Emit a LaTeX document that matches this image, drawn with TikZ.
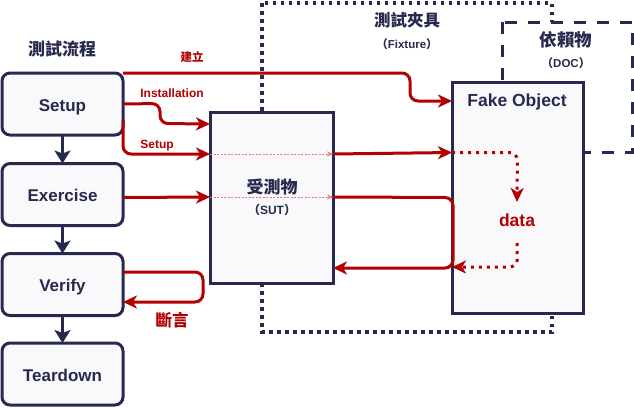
\documentclass[tikz,border=0pt]{standalone}
\usepackage{fontspec}
\setmainfont{Liberation Sans}
\newfontfamily\zhfont{Noto Sans CJK TC}
\usetikzlibrary{arrows.meta,calc}
\definecolor{navy}{HTML}{272A4E}
\definecolor{dred}{HTML}{B30000}
\definecolor{pinkl}{HTML}{E07A7A}
\definecolor{boxfill}{HTML}{F9F9FB}
\tikzset{
  stepbox/.style={draw=navy, line width=3pt, rounded corners=8pt, fill=boxfill,
    minimum width=121pt, minimum height=62pt, inner sep=0pt, outer sep=0pt,
    text height=14pt, text depth=0pt,
    text=navy, font=\bfseries\fontsize{17}{20}\selectfont},
  bigbox/.style={draw=navy, line width=3pt, fill=boxfill, inner sep=0pt, outer sep=0pt},
  flow/.style={draw=navy, line width=3pt, -{Stealth[length=13pt,width=16pt,inset=3pt]}},
  redline/.style={draw=dred, line width=3pt, rounded corners=8pt, -{Stealth[length=14pt,width=13pt,inset=4pt]}},
  reddot/.style={redline, dash pattern=on 3pt off 5pt},
  thinarrow/.style={draw=pinkl, line width=0.8pt, dash pattern=on 2pt off 1.5pt, -{Stealth[length=6pt,width=5pt]}},
  navylbl/.style={text=navy, inner sep=0pt},
  redlbl/.style={text=dred, inner sep=0pt},
}
\begin{document}
\begin{tikzpicture}[x=1pt,y=-1pt]
\useasboundingbox (0,0) rectangle (634,407);
\fill[white] (0,0) rectangle (634,407);

% fixture and DOC regions
\draw[navy, line width=3.5pt, dash pattern=on 3.5pt off 4.5pt] (262,3) rectangle (552,332);
\draw[navy, line width=3pt, dash pattern=on 12pt off 11pt, fill=white] (502,22) rectangle (632,152.5);

% flow boxes
\node[stepbox] (setup) at (62.5,104) {Setup};
\node[stepbox] (exercise) at (62.5,194.5) {Exercise};
\node[stepbox] (verify) at (62.5,284.5) {Verify};
\node[stepbox] (teardown) at (62.5,374) {Teardown};

\draw[flow] (setup) -- (exercise);
\draw[flow] (exercise) -- (verify);
\draw[flow] (verify) -- (teardown);

% SUT and fake
\node[bigbox, minimum width=123pt, minimum height=171pt] (sut) at (271.5,197.5) {};
\node[bigbox, minimum width=131pt, minimum height=231pt] (fake) at (517.5,197.5) {};

% labels
\node[navylbl, font=\zhfont\bfseries\fontsize{17}{20}\selectfont] (title) at (62,49) {測試流程};
\node[navylbl, font=\zhfont\bfseries\fontsize{17}{20}\selectfont] (sutzh) at (272,187) {受測物};
\node[navylbl, font=\bfseries\fontsize{12}{14}\selectfont] (suten) at (272,209.5) {{\zhfont （}SUT{\zhfont ）}};
\node[navylbl, font=\zhfont\bfseries\fontsize{16.5}{20}\selectfont] (fixzh) at (407,20.5) {測試夾具};
\node[navylbl, font=\bfseries\fontsize{11.5}{13}\selectfont] (fixen) at (407,44.3) {{\zhfont （}Fixture{\zhfont ）}};
\node[navylbl, font=\zhfont\bfseries\fontsize{17.5}{20}\selectfont] (doczh) at (566,39.5) {依賴物};
\node[navylbl, font=\bfseries\fontsize{11.5}{13}\selectfont] (docen) at (566,63.3) {{\zhfont （}DOC{\zhfont ）}};
\node[navylbl, anchor=base, font=\bfseries\fontsize{17.5}{20}\selectfont] (fakelbl) at (517,106) {Fake Object};

\node[redlbl, font=\zhfont\bfseries\fontsize{11.5}{14}\selectfont] (build) at (192,57.5) {建立};
\node[redlbl, anchor=base, font=\bfseries\fontsize{12}{14}\selectfont] (install) at (172,97.7) {Installation};
\node[redlbl, anchor=base, font=\bfseries\fontsize{12}{14}\selectfont] (setuplbl) at (157,148.3) {Setup};
\node[redlbl, anchor=base, font=\bfseries\fontsize{17.5}{20}\selectfont] (data) at (517,226) {data};
\node[redlbl, font=\zhfont\bfseries\fontsize{16.5}{20}\selectfont] (assert) at (172,320) {斷言};
\coordinate (dtop) at (517,202);
\coordinate (dbot) at (517,243);

% red connectors
\draw[redline] (setup.north east) -- (410,73) -- (410,101) -- ($(fake.north west)+(0,19)$);
\draw[redline] (setup.east) -- (160,103.5) -- (160,123.5) -- ($(sut.north west)+(0,12)$);
\draw[redline] ($(setup.east)+(0,16)$) -- (123,154) -- ($(sut.north west)+(0,42)$);
\draw[thinarrow] ($(sut.north west)+(0,42)$) -- ($(sut.north east)+(0,42)$);
\draw[redline] ($(sut.north east)+(0,42)$) -- ($(fake.north west)+(0,70.5)$);

\draw[redline] ($(exercise.east)+(0,3)$) -- ($(sut.north west)+(0,85)$);
\draw[thinarrow] ($(sut.north west)+(0,85)$) -- ($(sut.north east)+(0,85)$);
\draw[redline] ($(sut.north east)+(0,85)$) -- (453,197.5) -- (453,268) -- ($(sut.north east)+(0,156)$);

\draw[reddot] ($(fake.north west)+(0,70.5)$) -- (517.5,152.5) -- (dtop);
\draw[reddot] (dbot) -- (517.5,267) -- ($(fake.north west)+(0,185)$);

\draw[redline] ($(verify.east)+(0,-12.5)$) -- (203,272) -- (203,302) -- ($(verify.east)+(0,17.5)$);
\end{tikzpicture}
\end{document}
